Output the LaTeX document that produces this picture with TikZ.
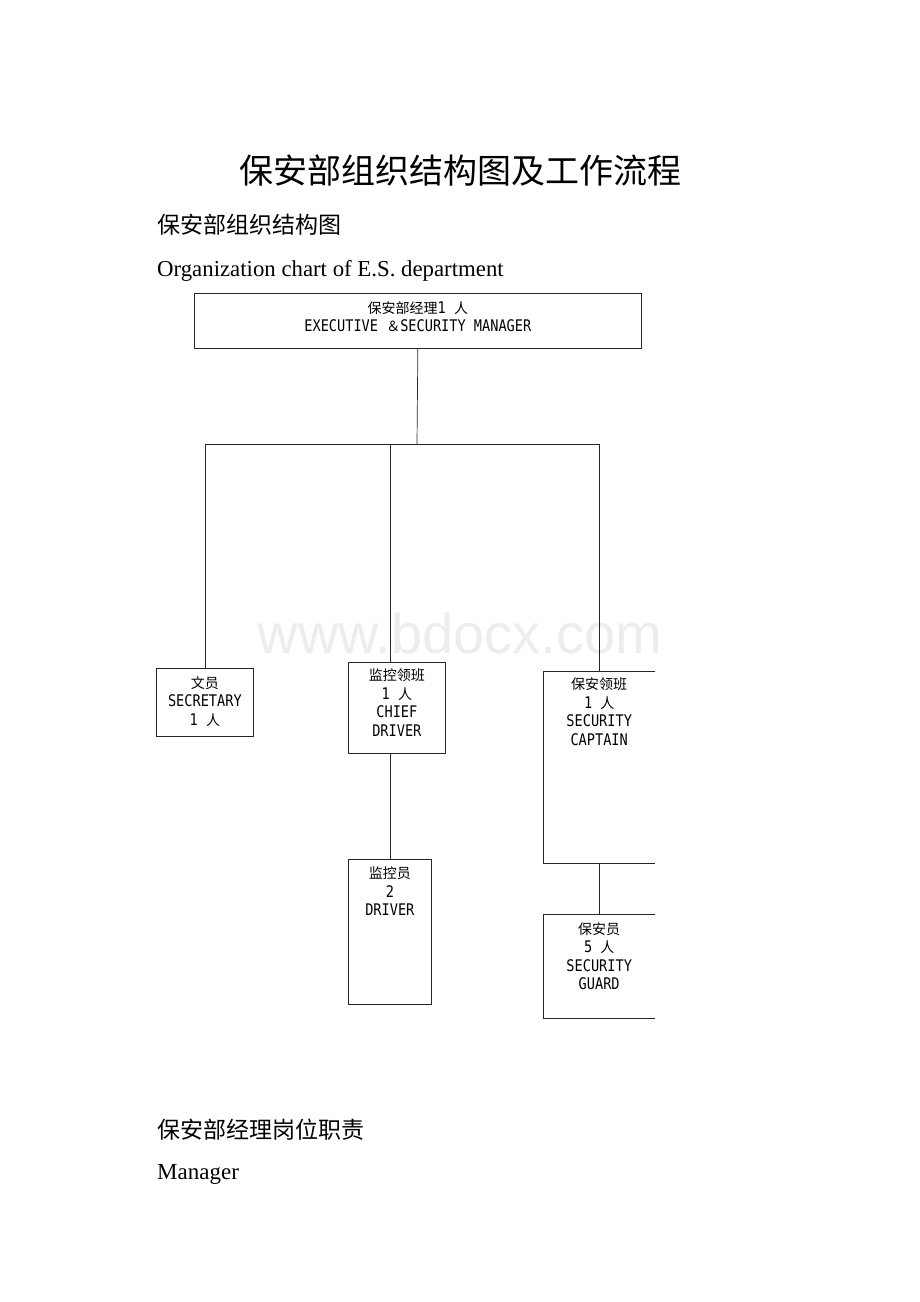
\documentclass[tikz,border=0pt]{standalone}
\usepackage{fontspec}
\setmainfont{Liberation Serif}
\newfontfamily\cjk{Noto Sans CJK SC}
\newfontfamily\boxmono[FakeStretch=0.85]{DejaVu Sans Mono}
\newfontfamily\wmfont{Liberation Sans}
\newcommand{\zh}[1]{{\cjk\fontsize{14}{18.5}\selectfont #1}}

\tikzset{
  orgbox/.style={draw=black!85, line width=0.7pt, inner sep=0pt, anchor=north west},
  openbox/.style={draw=none, inner sep=0pt, anchor=north west},
  orgtext/.style={align=center, inner sep=0pt, anchor=north, font=\boxmono\fontsize{16}{18.5}\selectfont},
  orgline/.style={draw=black!85, line width=0.7pt},
  pagetext/.style={inner sep=0pt}
}

\begin{document}
\begin{tikzpicture}[x=1pt,y=-1pt]
    \useasboundingbox (0,0) rectangle (920,1302);
    \node[pagetext] (title) at (460,171) {\cjk\fontsize{34}{34}\selectfont 保安部组织结构图及工作流程};
    \node[pagetext, anchor=west] (sub) at (157,225) {\cjk\fontsize{23}{23}\selectfont 保安部组织结构图};
    \node[pagetext, anchor=base west] (eng) at (157,276) {\fontsize{22.8}{22.8}\selectfont Organization chart of E.S. department};
    \node[pagetext, text=gray!14] (wm) at (460,633) {\wmfont\fontsize{56}{56}\selectfont www.bdocx.com};%
    \node[orgbox, minimum width=447pt, minimum height=55pt] (mgr) at (194,293) {};
    \node[orgbox, minimum width=97pt, minimum height=68pt] (sec) at (156,668) {};
    \node[orgbox, minimum width=97pt, minimum height=91pt] (chief) at (348,662) {};
    \node[openbox, minimum width=112pt, minimum height=192pt] (cap) at (543,671) {};
    \node[orgbox, minimum width=83pt, minimum height=145pt] (drv) at (348,859) {};
    \node[openbox, minimum width=112pt, minimum height=104pt] (grd) at (543,914) {};%
    \node[orgtext] (mgrt) at ([yshift=-8pt]mgr.north) {\zh{保安部经理}1 \zh{人}\\EXECUTIVE \zh{＆}SECURITY MANAGER};
    \node[orgtext] (sect) at ([yshift=-8pt]sec.north) {\zh{文员}\\SECRETARY\\1 \zh{人}};
    \node[orgtext] (chieft) at ([yshift=-7pt]chief.north) {\zh{监控领班}\\1 \zh{人}\\CHIEF\\DRIVER};
    \node[orgtext] (capt) at ([yshift=-7pt]cap.north) {\zh{保安领班}\\1 \zh{人}\\SECURITY\\CAPTAIN};
    \node[orgtext] (drvt) at ([yshift=-8pt]drv.north) {\zh{监控员}\\2\\DRIVER};
    \node[orgtext] (grdt) at ([yshift=-8pt]grd.north) {\zh{保安员}\\5 \zh{人}\\SECURITY\\GUARD};%
    \draw[orgline] (cap.north east) -- (cap.north west) -- (cap.south west) -- (cap.south east);
    \draw[orgline] (grd.north east) -- (grd.north west) -- (grd.south west) -- (grd.south east);%
    \coordinate (bus) at (417,444);
    \draw[orgline] (mgr.south) -- (bus);
    \draw[orgline] (bus) -| (sec.north);
    \draw[orgline] (bus) -| (drv.north |- chief.north);
    \draw[orgline] (bus) -| (cap.north);
    \draw[orgline] (chief.south -| drv.north) -- (drv.north);
    \draw[orgline] (cap.south) -- (grd.north);%
    \node[pagetext, anchor=west] (duty) at (157,1130) {\cjk\fontsize{23}{23}\selectfont 保安部经理岗位职责};
    \node[pagetext, anchor=base west] (mgrword) at (157,1179) {\fontsize{23}{23}\selectfont Manager};
\end{tikzpicture}
\end{document}
